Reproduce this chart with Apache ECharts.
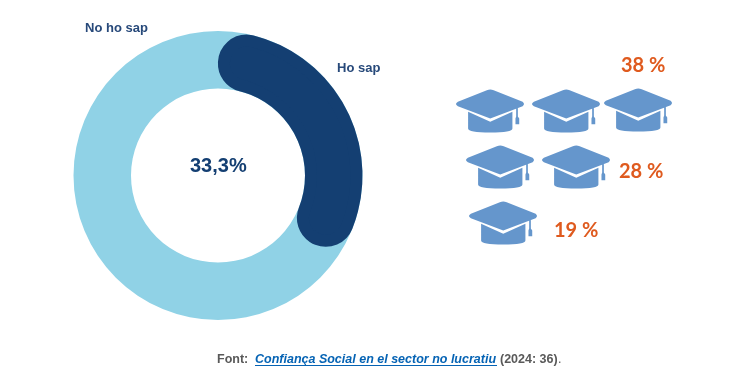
<!DOCTYPE html>
<html>
<head>
<meta charset="utf-8">
<style>
html, body { margin: 0; background: #fff; }
#chart { width: 730px; height: 381px; }
</style>
<script src="https://cdn.jsdelivr.net/npm/echarts@6/dist/echarts.min.js"></script>
</head>
<body>
<div id="chart"></div>
<script>
var categories = ['Ho sap', 'No ho sap'];
var knowValues = [33.3, 66.7];
var centerLabel = '33,3%';
var hatRows = ['38 %', '28 %', '19 %'];
var hatCounts = [3, 2, 1];
var sourceParts = ['Font:', 'Confiança Social en el sector no lucratiu', '(2024: 36)', '.'];

var chart = echarts.init(document.getElementById('chart'));
var sans = '"Liberation Sans", Arial, sans-serif';
var navy = '#143F72';
var orange = '#DF5A1E';

var hatPath = 'path://M93 3 Q103 -1 113 3 L198 38 Q206 45 198 51 L103 88 L8 51 Q-3 45 8 38 Z ' +
    'M38 68 L103 98 L168 68 L168 118 Q168 130 103 130 Q38 130 38 118 Z ' +
    'M179 54 L184 52 L184 82 L188 88 L188 105 L177 105 L177 88 L179 82 Z';

// small nudges so each hat sits where it does in the original
var hatNudge = [[0, 0, -4], [10, 10], [13]];
var hatData = [];
hatCounts.forEach(function (count, row) {
    for (var k = 0; k < count; k++) {
        hatData.push({
            value: [k, hatRows[row]],
            symbolOffset: [hatNudge[row][k], k === 2 ? -1 : 0]
        });
    }
});

var option = {
    animation: false,
    backgroundColor: '#fff',
    grid: { left: 490, width: 152, top: 83, height: 168 },
    xAxis: { type: 'value', min: 0, max: 2, show: false },
    yAxis: { type: 'category', inverse: true, data: hatRows, show: false },
    series: [
        {
            type: 'pie',
            silent: true,
            center: [218, 175.5],
            radius: [87, 144.5],
            label: { show: false },
            data: [{ value: knowValues[0] + knowValues[1], name: categories[1], itemStyle: { color: '#90D2E6' } }]
        },
        {
            // same colour border pushes the rounded ends out past the sector
            type: 'pie',
            silent: true,
            clockwise: true,
            startAngle: 87,
            center: [218, 175.5],
            radius: [93, 138.5],
            label: { show: false },
            data: [
                { value: knowValues[0], name: categories[0], itemStyle: { color: navy, borderColor: navy, borderWidth: 12, borderJoin: 'round', borderRadius: 22.7 } },
                { value: knowValues[1], name: categories[1], itemStyle: { color: 'transparent', borderWidth: 0 } }
            ]
        },
        {
            type: 'scatter',
            silent: true,
            symbol: hatPath,
            symbolSize: [68, 43],
            itemStyle: { color: '#6596CC', opacity: 1 },
            data: hatData
        }
    ],
    graphic: [
        { type: 'text', left: 85, top: 22, style: { text: categories[1], font: 'bold 13px ' + sans, fill: '#27497A' } },
        { type: 'text', left: 337, top: 62, style: { text: categories[0], font: 'bold 13px ' + sans, fill: '#27497A' } },
        { type: 'text', left: 190, top: 156, style: { text: centerLabel, font: 'bold 20px ' + sans, fill: navy } },
        { type: 'text', left: 621, top: 56, style: { text: hatRows[0], font: 'bold 20px Lato, sans-serif', fill: orange } },
        { type: 'text', left: 619, top: 162, style: { text: hatRows[1], font: 'bold 20px Lato, sans-serif', fill: orange } },
        { type: 'text', left: 554, top: 221, style: { text: hatRows[2], font: 'bold 20px Lato, sans-serif', fill: orange } },
        { type: 'text', left: 217, top: 353, style: { text: sourceParts[0], font: 'bold 12.5px ' + sans, fill: '#595959' } },
        { type: 'text', left: 255, top: 353, style: { text: sourceParts[1], font: 'italic bold 12.5px ' + sans, fill: '#0563B4' } },
        { type: 'line', shape: { x1: 255, y1: 365.5, x2: 497, y2: 365.5 }, style: { stroke: '#0563B4', lineWidth: 1 } },
        { type: 'text', left: 500, top: 353, style: { text: sourceParts[2], font: 'bold 12.5px ' + sans, fill: '#595959' } },
        { type: 'text', left: 558, top: 353, style: { text: sourceParts[3], font: '12.5px ' + sans, fill: '#595959' } }
    ]
};

chart.setOption(option);
</script>
</body>
</html>
